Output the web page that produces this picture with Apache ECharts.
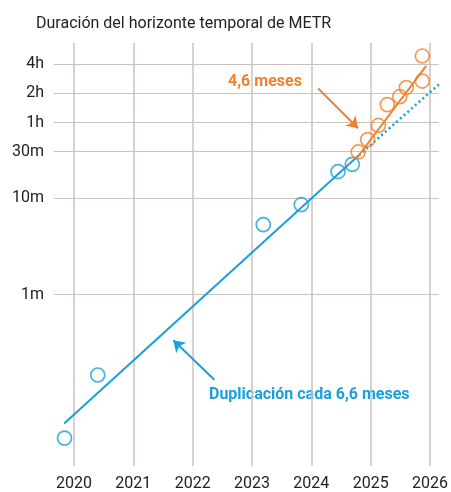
<!DOCTYPE html>
<html>
<head>
<meta charset="utf-8">
<script src="https://cdn.jsdelivr.net/npm/echarts@6/dist/echarts.min.js"></script>
<style>
  html, body { margin: 0; padding: 0; background: #fff; }
  #chart { width: 451px; height: 492px; }
</style>
</head>
<body>
<div id="chart"></div>
<script>
// Task length (minutes) an AI model completes at 50% reliability, by release date (decimal year)
const blueYears   = [2019.84, 2020.40, 2023.19, 2023.83, 2024.45, 2024.69];
const blueMinutes = [0.033, 0.148, 5.3, 8.5, 18.7, 22.2];

const orangeYears   = [2024.79, 2024.95, 2025.13, 2025.28, 2025.49, 2025.60, 2025.87, 2025.87];
const orangeMinutes = [29.8, 40, 56, 92, 111, 138, 292, 161];

// Fitted trends: long-run fit (solid + dotted projection) and recent fit
const blueTrendYears   = [2019.835, 2024.80];
const blueTrendMinutes = [0.0467, 27.5];
const blueProjYears    = [2024.80, 2026.167];
const blueProjMinutes  = [27.5, 152];
const orangeTrendYears   = [2024.776, 2025.936];
const orangeTrendMinutes = [26.3, 231];

// Axis ticks
const yearTicks = [2020, 2021, 2022, 2023, 2024, 2025, 2026];
const yTickMinutes = [1, 10, 30, 60, 120, 240];
const yTickLabels  = ['1m', '10m', '30m', '1h', '2h', '4h'];

const BLUE = '#1a9fdc';
const ORANGE = '#f0822f';
const GRID = '#cbc2bb';
const FONT = 'Roboto';

const lg = v => Math.log10(v);
const pairs = (xs, ys) => xs.map((x, i) => [x, lg(ys[i])]);
const yTickLogs = yTickMinutes.map(lg);

// Annotation arrow: tail and head in (year, minutes)
const arrow = (x0, m0, x1, m1) => [{ coord: [x0, lg(m0)] }, { coord: [x1, lg(m1)] }];

const chart = echarts.init(document.getElementById('chart'), null, { renderer: 'canvas' });

chart.setOption({
  animation: false,
  backgroundColor: '#fff',
  title: {
    text: 'Duración del horizonte temporal de METR',
    left: 31, top: 11,
    textStyle: { fontFamily: FONT, fontSize: 16, fontWeight: 'normal', color: '#222' }
  },
  grid: { left: 54, right: 12, top: 43, bottom: 22 },
  xAxis: {
    type: 'value',
    min: 2019.663, max: 2026.15,
    axisLine: { show: false },
    axisTick: { show: false, customValues: yearTicks },
    axisLabel: {
      customValues: yearTicks,
      fontFamily: FONT, fontSize: 16, color: '#222', margin: 10,
      formatter: v => String(Math.round(v))
    },
    splitLine: { show: true, lineStyle: { color: GRID, width: 1.5 } }
  },
  yAxis: {
    type: 'value',
    min: lg(0.0170), max: lg(398),
    axisLine: { show: false },
    axisTick: { show: false, customValues: yTickLogs },
    axisLabel: {
      customValues: yTickLogs,
      fontFamily: FONT, fontSize: 16, color: '#222', margin: 10,
      formatter: v => {
        let best = 0;
        yTickLogs.forEach((t, i) => { if (Math.abs(t - v) < Math.abs(yTickLogs[best] - v)) best = i; });
        return yTickLabels[best];
      }
    },
    splitLine: { show: true, lineStyle: { color: GRID, width: 1 } }
  },
  series: [
    {
      type: 'line', data: pairs(blueTrendYears, blueTrendMinutes),
      symbol: 'none', lineStyle: { color: BLUE, width: 2 }, z: 3,
      markLine: {
        silent: true, symbol: ['none', 'arrow'], symbolSize: 11,
        label: { show: false },
        lineStyle: { color: BLUE, width: 2, type: 'solid' },
        data: [arrow(2022.365, 0.132, 2021.675, 0.338)]
      }
    },
    {
      type: 'line', data: pairs(blueProjYears, blueProjMinutes),
      symbol: 'none', lineStyle: { color: BLUE, width: 2.5, type: [2, 3] }, z: 3
    },
    {
      type: 'line', data: pairs(orangeTrendYears, orangeTrendMinutes),
      symbol: 'none', lineStyle: { color: ORANGE, width: 2 }, z: 4,
      markLine: {
        silent: true, symbol: ['none', 'arrow'], symbolSize: 11,
        label: { show: false },
        lineStyle: { color: ORANGE, width: 2, type: 'solid' },
        data: [arrow(2024.115, 134.6, 2024.788, 52.4)]
      }
    },
    {
      type: 'scatter', data: pairs(blueYears, blueMinutes),
      symbol: 'circle', symbolSize: 14,
      itemStyle: { color: 'rgba(255,255,255,0)', borderColor: BLUE, borderWidth: 1.7 }, z: 5
    },
    {
      type: 'scatter', data: pairs(orangeYears, orangeMinutes),
      symbol: 'circle', symbolSize: 14,
      itemStyle: { color: 'rgba(255,255,255,0)', borderColor: ORANGE, borderWidth: 1.7 }, z: 6
    }
  ],
  graphic: [
    {
      type: 'text', left: 228, top: 74,
      style: { text: '4,6 meses', fill: ORANGE, fontFamily: FONT, fontSize: 16, fontWeight: 'bold' }
    },
    {
      type: 'text', left: 209, top: 387,
      style: { text: 'Duplicación cada 6,6 meses', fill: BLUE, fontFamily: FONT, fontSize: 16, fontWeight: 'bold' }
    }
  ]
});
</script>
</body>
</html>
